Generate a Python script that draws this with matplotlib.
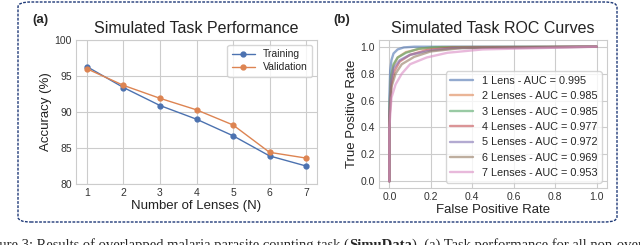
import numpy as np
import matplotlib
matplotlib.use("Agg")
import matplotlib.pyplot as plt
import seaborn as sns
from matplotlib.patches import FancyBboxPatch

# panel (a) data
lenses = [1, 2, 3, 4, 5, 6, 7]
train_acc = [96.3, 93.4, 90.9, 89.0, 86.7, 83.9, 82.5]
val_acc = [96.0, 93.7, 91.9, 90.3, 88.2, 84.4, 83.6]

# panel (b) data
roc_labels = ["1 Lens - AUC = 0.995", "2 Lenses - AUC = 0.985", "3 Lenses - AUC = 0.985",
              "4 Lenses - AUC = 0.977", "5 Lenses - AUC = 0.972", "6 Lenses - AUC = 0.969",
              "7 Lenses - AUC = 0.953"]
fpr1 = [0, 0, 0.004, 0.01, 0.02, 0.04, 0.07, 0.12, 1.0]
tpr1 = [0, 0.62, 0.82, 0.9, 0.95, 0.98, 0.995, 1.0, 1.0]
fpr2 = [0, 0, 0.008, 0.02, 0.04, 0.08, 0.15, 0.25, 1.0]
tpr2 = [0, 0.5, 0.76, 0.86, 0.92, 0.96, 0.985, 0.997, 1.0]
fpr3 = [0, 0, 0.008, 0.02, 0.04, 0.08, 0.14, 0.22, 1.0]
tpr3 = [0, 0.55, 0.78, 0.87, 0.92, 0.955, 0.985, 0.997, 1.0]
fpr4 = [0, 0, 0.01, 0.025, 0.05, 0.1, 0.18, 0.3, 1.0]
tpr4 = [0, 0.45, 0.72, 0.82, 0.89, 0.94, 0.975, 0.993, 1.0]
fpr5 = [0, 0, 0.008, 0.02, 0.05, 0.1, 0.2, 0.32, 1.0]
tpr5 = [0, 0.5, 0.74, 0.84, 0.9, 0.94, 0.972, 0.99, 1.0]
fpr6 = [0, 0, 0.01, 0.03, 0.06, 0.12, 0.2, 0.35, 1.0]
tpr6 = [0, 0.45, 0.7, 0.8, 0.87, 0.925, 0.965, 0.99, 1.0]
fpr7 = [0, 0, 0.01, 0.03, 0.06, 0.1, 0.18, 0.28, 0.45, 1.0]
tpr7 = [0, 0.4, 0.62, 0.72, 0.8, 0.87, 0.92, 0.955, 0.98, 1.0]
roc_fpr = [fpr1, fpr2, fpr3, fpr4, fpr5, fpr6, fpr7]
roc_tpr = [tpr1, tpr2, tpr3, tpr4, tpr5, tpr6, tpr7]

sns.set_style("whitegrid")
plt.rcParams['font.family'] = ['Liberation Sans', 'DejaVu Sans']
pal = sns.color_palette("deep")

fig = plt.figure(figsize=(6.4, 2.45), dpi=100)

# dashed frame round both panels
box = FancyBboxPatch((18 / 640, 1 - 222 / 245), 599 / 640, 220 / 245,
                     boxstyle="round,pad=0,rounding_size=0.02", transform=fig.transFigure,
                     fill=False, ec="#1f3a78", lw=1.0, ls=(0, (2, 1)))
fig.patches.append(box)

tick_kw = dict(labelsize=7.5, colors="#333333", length=0, pad=3)

# (a)
ax1 = fig.add_axes([76 / 640, 1 - 184 / 245, 241 / 640, 144 / 245])
ax1.plot(lenses, train_acc, marker="o", ms=3.5, lw=1.0, color=pal[0], label="Training")
ax1.plot(lenses, val_acc, marker="o", ms=3.5, lw=1.0, color=pal[1], label="Validation")
ax1.set_xlim(0.7, 7.3)
ax1.set_ylim(80, 100)
ax1.set_yticks([80, 85, 90, 95, 100])
ax1.set_xticks(lenses)
ax1.tick_params(**tick_kw)
ax1.set_xlabel("Number of Lenses (N)", fontsize=9.5, labelpad=1, color="#222222")
ax1.set_ylabel("Accuracy (%)", fontsize=9.5, labelpad=2, color="#222222")
ax1.set_title("Simulated Task Performance", fontsize=11.5, pad=5, color="#222222")
ax1.legend(loc="upper right", fontsize=7.5, frameon=True, handlelength=2.2,
           borderpad=0.4, labelspacing=0.3)

# (b)
ax2 = fig.add_axes([379 / 640, 1 - 188 / 245, 228 / 640, 148 / 245])
roc_colors = [pal[0], pal[1], pal[2], pal[3], pal[4], pal[5], pal[6]]
for f, t, lab, c in zip(roc_fpr, roc_tpr, roc_labels, roc_colors):
    ax2.plot(f, t, lw=1.7, alpha=0.6, color=c, label=lab)
ax2.set_xlim(-0.05, 1.05)
ax2.set_ylim(-0.05, 1.05)
ax2.set_xticks([0, 0.2, 0.4, 0.6, 0.8, 1.0])
ax2.set_yticks([0, 0.2, 0.4, 0.6, 0.8, 1.0])
ax2.tick_params(**tick_kw)
ax2.set_xlabel("False Positive Rate", fontsize=9.5, labelpad=1, color="#222222")
ax2.set_ylabel("True Positive Rate", fontsize=9.5, labelpad=2, color="#222222")
ax2.set_title("Simulated Task ROC Curves", fontsize=11.5, pad=5, color="#222222")
ax2.legend(loc="lower right", fontsize=7.8, frameon=True, handlelength=2.1,
           borderpad=0.4, labelspacing=0.5)

fig.text(32 / 640, 1 - 20 / 245, "(a)", fontsize=9.5, fontweight="bold", va="center")
fig.text(333 / 640, 1 - 20 / 245, "(b)", fontsize=9.5, fontweight="bold", va="center")

# caption, cut by the image edge as in the source figure
cap_y = 1 - 249 / 245
cap_kw = dict(fontsize=10.5, family="Liberation Serif", va="baseline")
t1 = fig.text(-20 / 640, cap_y,
              "Figure 3: Results of overlapped malaria parasite counting task (", **cap_kw)
t2 = fig.text(0, 0, "SimuData", fontweight="bold", **cap_kw)
t3 = fig.text(0, 0, "). (a) Task performance for all non-overlapping", **cap_kw)
fig.canvas.draw()
r = fig.canvas.get_renderer()
inv = fig.transFigure.inverted()
bb1 = t1.get_window_extent(r)
t2.set_position((inv.transform((bb1.x1, 0))[0], cap_y))
bb2 = t2.get_window_extent(r)
t3.set_position((inv.transform((bb2.x1, 0))[0], cap_y))

fig.savefig("out.png", dpi=100)
